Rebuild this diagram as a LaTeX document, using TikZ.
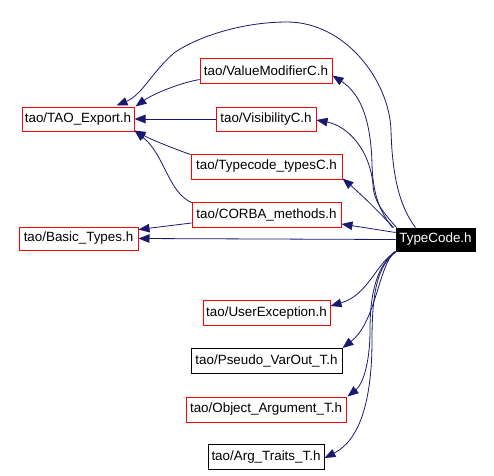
\documentclass[tikz,border=0pt]{standalone}
\usepackage{fontspec}
\setmainfont{Liberation Sans}
\usetikzlibrary{arrows.meta,calc}
\definecolor{edgec}{HTML}{191970}
\begin{document}
\begin{tikzpicture}[x=1pt,y=-1pt,
  filebox/.style={draw=red,line width=1pt,inner sep=0pt,minimum height=25pt,
    font=\fontsize{13.4}{15}\selectfont,text=black,anchor=center},
  plainbox/.style={filebox,draw=black},
  rootbox/.style={filebox,draw=black,fill=black,text=white},
  dep/.style={draw=edgec,line width=0.8pt,-{Triangle[length=11pt,width=8.5pt]}}
]
\useasboundingbox (0,0) rectangle (494,475);
\fill[white] (0,0) rectangle (494,475);

% nodes
\node[filebox,minimum width=112pt,minimum height=24pt] (tx) at (78,119) {tao/TAO\_Export.h};
\node[filebox,minimum width=119pt,minimum height=23pt] (bt) at (78.5,238.5) {tao/Basic\_Types.h};
\node[filebox,minimum width=132pt] (vm) at (266,70.5) {tao/ValueModifierC.h};
\node[filebox,minimum width=100pt,minimum height=24pt] (vs) at (266,119) {tao/VisibilityC.h};
\node[filebox,minimum width=151pt] (tt) at (266.5,166.5) {tao/Typecode\_typesC.h};
\node[filebox,minimum width=149pt] (cm) at (266.5,215) {tao/CORBA\_methods.h};
\node[rootbox,minimum width=79pt,minimum height=23pt] (tc) at (435.5,239.5) {TypeCode.h};
\node[filebox,minimum width=127pt] (ue) at (266.5,313) {tao/UserException.h};
\node[plainbox,minimum width=151pt] (pv) at (266.5,361) {tao/Pseudo\_VarOut\_T.h};
\node[filebox,minimum width=160pt] (oa) at (266,409.5) {tao/Object\_Argument\_T.h};
\node[plainbox,minimum width=116pt] (at) at (266,457) {tao/Arg\_Traits\_T.h};

% TypeCode.h -> upper includes
\draw[dep] ($(tc.north west)+(20,0)$)
  .. controls (398,205) and (392,170) .. (391,130)
  .. controls (389,80) and (345,22) .. (287,22)
  .. controls (240,22) and (195,38) .. (174,53)
  .. controls (152,72) and (142,95) .. ($(tx.north east)+(-18,-1)$);
\draw[dep] ($(tc.north west)+(-3,0)$)
  .. controls (380,212) and (373,195) .. (372,165)
  .. controls (371,115) and (358,92) .. ($(vm.east)+(0,5)$);
\draw[dep] ($(tc.north west)+(1,0)$)
  .. controls (383,212) and (374,202) .. (373,185)
  .. controls (370,150) and (348,126) .. ($(vs.east)+(0,1)$);
\draw[dep] ($(tc.north west)+(-2,0)$)
  .. controls (382,215) and (362,195) .. ($(tt.south east)+(0,-1)$);
\draw[dep] ($(tc.west)+(0,-7)$) -- ($(cm.east)+(0,9)$);
\draw[dep] (tc.west) -- (bt.east);

% second level
\draw[dep] ($(vm.south west)+(0,-4)$)
  .. controls (175,84) and (150,96) .. ($(tx.north east)+(1,0)$);
\draw[dep] (vs.west) -- (tx.east);
\draw[dep] ($(tt.north west)+(0,1)$)
  .. controls (175,149) and (152,140) .. ($(tx.south east)+(0,-1)$);
\draw[dep] ($(cm.north west)+(1,1)$)
  .. controls (168,193) and (165,155) .. ($(tx.south east)+(0,-1)$);
\draw[dep] ($(cm.south west)+(0,-5)$) -- ($(bt.east)+(0,-9)$);

% TypeCode.h -> lower includes
\draw[dep] ($(tc.south west)+(0,0)$)
  .. controls (375,265) and (368,295) .. ($(ue.east)+(0,-7)$);
\draw[dep] ($(tc.south west)+(-1,0)$)
  .. controls (378,268) and (376,322) .. ($(pv.north east)+(0,0)$);
\draw[dep] ($(tc.south west)+(0,0)$)
  .. controls (378,265) and (370,290) .. (370,330)
  .. controls (370,365) and (362,385) .. ($(oa.north east)+(1,0)$);
\draw[dep] ($(tc.south west)+(1,0)$)
  .. controls (378,265) and (372,290) .. (372,340)
  .. controls (372,400) and (360,440) .. ($(at.east)+(0,1)$);
\end{tikzpicture}
\end{document}
